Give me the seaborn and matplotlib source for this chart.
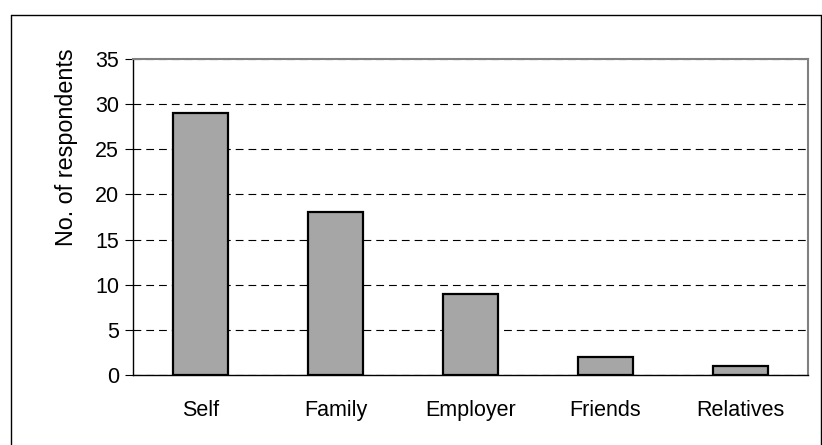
import matplotlib
matplotlib.use("Agg")
import matplotlib.pyplot as plt
import seaborn as sns
import pandas as pd
from matplotlib.lines import Line2D

categories = ["Self", "Family", "Employer", "Friends", "Relatives"]
respondents = [29, 18, 9, 2, 1]
yticks = [0, 5, 10, 15, 20, 25, 30, 35]

sns.set_theme(style="white")
plt.rcParams['font.family'] = ['Liberation Sans', 'DejaVu Sans']

df = pd.DataFrame({"source": categories, "count": respondents})

fig = plt.figure(figsize=(8.22, 4.45), dpi=100)
ax = fig.add_axes([133/822, 70/445, (808-133)/822, (375-59)/445])

sns.barplot(data=df, x="source", y="count", color="#a6a6a6", saturation=1,
            edgecolor="black", linewidth=1.6, width=0.41, ax=ax, zorder=3)

FS = 15.5
ax.set_ylim(0, 35)
ax.set_xlim(-0.5, len(categories) - 0.5)
ax.set_yticks(yticks)
ax.set_yticklabels([str(t) for t in yticks])
ax.yaxis.grid(True, color="black", linestyle=(0, (7, 4.5)), linewidth=0.8, zorder=0)
ax.set_axisbelow(True)
ax.set_xlabel("")
ax.set_ylabel("No. of respondents", fontsize=16.8, color="black")
ax.yaxis.set_label_coords(-0.0815, 0.7215)
ax.tick_params(axis="y", left=True, length=6, width=0.8, pad=4, labelsize=FS,
               colors="black", direction="out")
ax.tick_params(axis="x", bottom=False, pad=12, labelsize=FS, colors="black")

for side in ["left", "bottom"]:
    ax.spines[side].set_color("black")
    ax.spines[side].set_linewidth(1.0)
for side in ["top", "right"]:
    ax.spines[side].set_color("#808080")
    ax.spines[side].set_linewidth(1.5)

# outer chart border
W, H = 822, 445
fig.add_artist(Line2D([10.5/W, 10.5/W], [0, (H-14.5)/H], transform=fig.transFigure, color="black", linewidth=1.0))
fig.add_artist(Line2D([10.5/W, 820.5/W], [(H-14.5)/H, (H-14.5)/H], transform=fig.transFigure, color="black", linewidth=1.0))
fig.add_artist(Line2D([820.5/W, 820.5/W], [0, (H-14.5)/H], transform=fig.transFigure, color="black", linewidth=1.0))

fig.savefig("out.png", dpi=100, facecolor="white")
